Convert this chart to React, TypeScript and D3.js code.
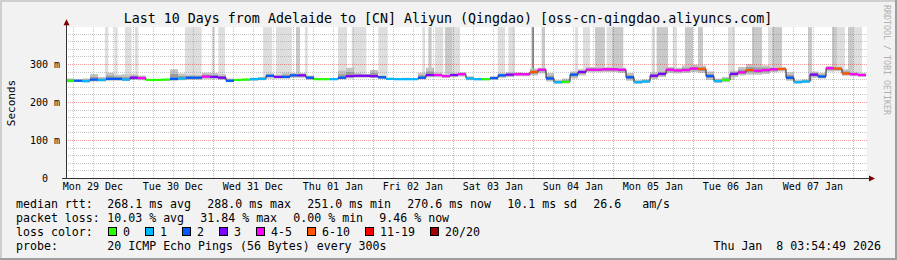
import React from 'react';
import * as d3 from 'd3';

const W = 897;
const H = 260;
const STEP_H = 2.4; // hours per consolidated point

const title = 'Last 10 Days from Adelaide to [CN] Aliyun (Qingdao) [oss-cn-qingdao.aliyuncs.com]';
const startTime = new Date(2025, 11, 29, 3, 54, 49);
const endTime = new Date(2026, 0, 8, 3, 54, 49);

// median rtt (ms), one value per 2.4 h
const median = [
  256, 256, 255, 259, 258, 261, 261, 259, 264, 263,
  258, 258, 259, 261, 262, 264, 264, 267, 266, 264,
  256, 258, 259, 260, 261, 269, 266, 266, 270, 270,
  264, 260, 260, 260, 264, 268, 269, 269, 268, 265,
  261, 260, 260, 260, 264, 271, 271, 268, 271, 273,
  262, 260, 260, 263, 270, 272, 273, 273, 279, 285,
  262, 252, 253, 272, 279, 285, 285, 286, 286, 285,
  265, 252, 254, 269, 274, 285, 283, 284, 288, 287,
  268, 255, 258, 274, 278, 284, 282, 284, 286, 287,
  264, 252, 254, 272, 267, 289, 288, 275, 273, 271,
];
// loss bucket index per point (0..7)
const lossIdx = [
  0, 2, 1, 2, 1, 2, 2, 1, 3, 4,
  0, 0, 0, 2, 1, 2, 2, 4, 3, 3,
  2, 0, 0, 1, 1, 2, 3, 2, 2, 3,
  2, 0, 0, 1, 2, 3, 3, 3, 3, 2,
  1, 1, 1, 1, 2, 3, 4, 4, 3, 4,
  1, 1, 0, 2, 2, 3, 4, 4, 5, 4,
  2, 1, 0, 2, 3, 4, 4, 4, 4, 4,
  2, 1, 1, 3, 3, 4, 4, 4, 4, 5,
  2, 1, 0, 3, 4, 5, 4, 4, 4, 5,
  2, 1, 1, 3, 2, 4, 5, 5, 4, 4,
];
// smoke upper / lower extent (ms)
const smokeHi = [
  262, 259, 262, 274, 266, 277, 272, 273, 273, 270,
  260, 259, 260, 286, 275, 272, 272, 277, 276, 273,
  262, 260, 261, 264, 266, 275, 272, 277, 276, 276,
  270, 262, 262, 262, 282, 290, 276, 274, 284, 270,
  263, 262, 264, 262, 277, 290, 277, 274, 276, 278,
  268, 262, 262, 268, 276, 278, 278, 277, 288, 290,
  276, 258, 262, 280, 286, 292, 292, 292, 291, 290,
  276, 258, 260, 278, 282, 292, 290, 296, 298, 296,
  280, 262, 266, 282, 292, 300, 300, 296, 292, 292,
  278, 258, 260, 280, 276, 295, 293, 286, 278, 276,
];
const smokeLo = [
  252, 253, 251, 254, 254, 256, 256, 255, 258, 257,
  256, 256, 256, 256, 257, 258, 258, 260, 260, 258,
  252, 255, 256, 256, 257, 262, 261, 261, 264, 264,
  258, 258, 258, 258, 259, 262, 264, 264, 263, 260,
  258, 258, 258, 258, 259, 265, 265, 263, 265, 267,
  257, 257, 257, 258, 264, 266, 268, 268, 270, 275,
  254, 248, 249, 262, 270, 278, 278, 279, 279, 276,
  256, 248, 250, 260, 266, 276, 275, 276, 279, 276,
  258, 250, 252, 266, 270, 272, 272, 274, 278, 280,
  256, 249, 250, 264, 262, 280, 281, 269, 268, 266,
];
// periods (hours from start) where outlier pings reach above the chart top; shade 0 light, 1 medium, 2 dark
const spikes: [number, number, number][] = [
  [11.7, 12.7, 0], [14.5, 15.5, 0], [17.7, 19.7, 0], [20.7, 21.7, 0], [35.7, 40.7, 0], [43.7, 44.7, 0], [45.7, 47.7, 0],
  [59.1, 61.8, 0], [63, 67.8, 0], [69, 70.2, 1], [71.7, 72.5, 0], [81.6, 84.3, 0], [85.7, 90.1, 0], [93.7, 96.5, 0],
  [106.9, 107.7, 0], [108.7, 109.7, 1], [110.7, 113.2, 0], [113.7, 116, 1], [116, 118.2, 0],
  [129.5, 131.7, 0], [132.7, 134.7, 0], [139.7, 140.4, 2], [142.7, 143.7, 1], [152.7, 153.6, 0], [155.1, 157.2, 0],
  [158.7, 161.7, 1], [162.2, 163.7, 0], [163.7, 167.2, 1], [175.7, 176.7, 0], [177.2, 179.7, 1],
  [179.7, 180.6, 1], [182.1, 183.3, 0], [185.7, 188.1, 1], [189.6, 191.1, 1], [198.6, 200.7, 0], [205.8, 208.8, 1],
  [210.6, 211.8, 0], [211.8, 214.8, 1], [222.6, 223.8, 1], [229.8, 231.3, 1], [231.3, 233.7, 0], [234.6, 236.1, 1], [236.1, 238.8, 0],
];

const lossLabels = ['0', '1', '2', '3', '4-5', '6-10', '11-19', '20/20'];
const lossColors = ['#26ff00', '#00b8ff', '#0059ff', '#7e00ff', '#ff00ff', '#ff5500', '#ff0000', '#a10000'];
const yTicks = [0, 100, 200, 300];
const yTickLabels = ['0\u00a0\u00a0', '100 m', '200 m', '300 m'];
const statsRtt = ['268.1 ms avg', '288.0 ms max', '251.0 ms min', '270.6 ms now', '10.1 ms sd', '26.6   am/s'];
const statsLoss = ['10.03 % avg', '31.84 % max', '0.00 % min', '9.46 % now'];
const probeText = '20 ICMP Echo Pings (56 Bytes) every 300s';
const stampText = 'Thu Jan  8 03:54:49 2026';
const spikeShades = ['#dedede', '#c9c9c9', '#939393'];

const MONO = '"DejaVu Sans Mono", monospace';

export default function App() {
  const X0 = 66, X1 = 866, Y0 = 178;
  const x = d3.scaleTime().domain([startTime, endTime]).range([X0, X1]);
  const y = d3.scaleLinear().domain([0, 397]).range([Y0, Y0 - 397 * 0.38]);
  const YT = y(397);
  const tAt = (h: number) => new Date(startTime.getTime() + h * 3600 * 1000);

  type P = { t: Date; m: number; hi: number; lo: number };
  const pts: P[] = median.map((m, i) => ({ t: tAt(i * STEP_H), m, hi: smokeHi[i], lo: smokeLo[i] }));
  const ptsExt: P[] = [...pts, { ...pts[pts.length - 1], t: endTime }];

  const outer = d3.area<P>().curve(d3.curveStepAfter).x(d => x(d.t)).y0(d => y(d.lo)).y1(d => y(d.hi));
  const inner = d3.area<P>().curve(d3.curveStepAfter).x(d => x(d.t))
    .y0(d => y((d.lo + d.m) / 2)).y1(d => y((d.hi + d.m) / 2));
  const medLine = d3.line<P>().curve(d3.curveStepAfter).x(d => x(d.t)).y(d => y(d.m));

  const minorV = d3.timeHour.every(6)!.range(startTime, endTime).filter(d => d.getHours() !== 0);
  const majorV = d3.timeDay.range(startTime, endTime);
  const dayLabels = d3.timeDay.range(d3.timeDay.floor(startTime), endTime)
    .map(d => d3.timeHour.offset(d, 12)).filter(d => d >= startTime && d <= endTime);
  const fmt = d3.timeFormat('%a %d %b');
  const minorH = d3.range(20, 397, 20).filter(v => v % 100 !== 0);
  const majorH = [100, 200, 300];

  const legendCol = 107.3;
  const rttX: number[] = [];
  statsRtt.reduce((acc, s) => { rttX.push(acc); return acc + s.length * 7 + 16; }, legendCol);
  const lossX: number[] = [];
  statsLoss.reduce((acc, s) => { lossX.push(acc); return acc + s.length * 7 + 16; }, legendCol);
  const boxX: number[] = [];
  lossLabels.reduce((acc, s) => { boxX.push(acc); return acc + 30 + s.length * 7; }, 108.3);

  const gridMinor = 'rgba(143,143,143,0.5)';
  const gridMajor = 'rgba(229,0,0,0.38)';

  return (
    <svg width={W} height={H} style={{ position: 'fixed', left: 0, top: 0 }} fontFamily={MONO}>
      <rect x={0} y={0} width={W} height={H} fill="#f2f2f2" />
      <rect x={0} y={0} width={W} height={2} fill="#cfcfcf" />
      <rect x={0} y={0} width={2} height={H} fill="#cfcfcf" />
      <rect x={0} y={H - 2} width={W} height={2} fill="#9e9e9e" />
      <rect x={W - 2} y={0} width={2} height={H} fill="#9e9e9e" />

      <text x={448} y={23.3} textAnchor="middle" fontSize={13.3} fill="#000">{title}</text>

      <rect x={X0} y={YT} width={X1 - X0 + 1} height={Y0 - YT} fill="#ffffff" />

      <g>
        {spikes.map(([h0, h1, s], i) => {
          const idx = Math.min(median.length - 1, Math.floor(h0 / STEP_H));
          const xa = x(tAt(h0)), xb = x(tAt(h1));
          return <rect key={i} x={xa} y={YT} width={Math.max(1, xb - xa)} height={y(median[idx]) - YT} fill={spikeShades[s]} />;
        })}
        <path d={outer(ptsExt) || ''} fill="#c4c4c4" />
        <path d={inner(ptsExt) || ''} fill="#9c9c9c" />
      </g>

      <g shapeRendering="crispEdges">
        {minorH.map(v => (
          <line key={'mh' + v} x1={X0} x2={X1 + 1} y1={Math.round(y(v)) + 0.5} y2={Math.round(y(v)) + 0.5}
            stroke={gridMinor} strokeDasharray="1,1" />
        ))}
        {minorV.map((d, i) => (
          <line key={'mv' + i} x1={Math.round(x(d)) + 0.5} x2={Math.round(x(d)) + 0.5} y1={YT} y2={Y0}
            stroke={gridMinor} strokeDasharray="1,1" />
        ))}
        {majorH.map(v => (
          <line key={'Mh' + v} x1={X0} x2={X1 + 1} y1={Math.round(y(v)) + 0.5} y2={Math.round(y(v)) + 0.5}
            stroke={gridMajor} strokeDasharray="1,1" />
        ))}
        {majorV.map((d, i) => (
          <line key={'Mv' + i} x1={Math.round(x(d)) + 0.5} x2={Math.round(x(d)) + 0.5} y1={YT} y2={Y0}
            stroke={gridMajor} strokeDasharray="1,1" />
        ))}
      </g>

      <path d={medLine(ptsExt) || ''} fill="none" stroke="#202020" strokeWidth={1} />
      <g>
        {pts.map((p, i) => (
          <line key={i} x1={x(p.t)} x2={x(ptsExt[i + 1].t)} y1={y(p.m)} y2={y(p.m)}
            stroke={lossColors[lossIdx[i]]} strokeWidth={2.2} />
        ))}
      </g>

      {/* axes */}
      <g shapeRendering="crispEdges">
        <line x1={X0 + 0.5} x2={X0 + 0.5} y1={Y0} y2={YT - 3} stroke="#333" />
        <line x1={X0 - 4} x2={X1 + 3} y1={Y0 + 0.5} y2={Y0 + 0.5} stroke="#333" />
      </g>
      <path d={`M${X0 - 2.5},${YT - 2} L${X0 + 3.5},${YT - 2} L${X0 + 0.5},${YT - 8} Z`} fill="#7f0000" />
      <path d={`M${X1 + 3},${Y0 - 2.5} L${X1 + 3},${Y0 + 3.5} L${X1 + 9},${Y0 + 0.5} Z`} fill="#7f0000" />

      {yTicks.map((v, i) => (
        <text key={'yt' + v} x={60} y={y(v) + 3.6} textAnchor="end" fontSize={10} fill="#000">{yTickLabels[i]}</text>
      ))}
      {dayLabels.map((d, i) => (
        <text key={'xl' + i} x={x(d)} y={190.3} textAnchor="middle" fontSize={10} fill="#000">{fmt(d)}</text>
      ))}

      <text transform="translate(15,103) rotate(-90)" textAnchor="middle" fontSize={11} fill="#000">Seconds</text>
      <text transform="translate(884.3,60) rotate(90)" textAnchor="middle" fontSize={8.3} fill="#b0b0b0">RRDTOOL / TOBI OETIKER</text>

      {/* legend */}
      <g fontSize={11.6} fill="#000" style={{ whiteSpace: 'pre' }}>
        <text x={16} y={208}>median rtt:</text>
        {statsRtt.map((s, i) => <text key={'r' + i} x={rttX[i]} y={208} xmlSpace="preserve">{s}</text>)}
        <text x={16} y={222}>packet loss:</text>
        {statsLoss.map((s, i) => <text key={'l' + i} x={lossX[i]} y={222} xmlSpace="preserve">{s}</text>)}
        <text x={16} y={235.7}>loss color:</text>
        {lossLabels.map((s, i) => (
          <g key={'b' + i}>
            <rect x={Math.round(boxX[i]) + 0.5} y={227.5} width={8} height={8} fill={lossColors[i]} stroke="#000" strokeWidth={1} />
            <text x={boxX[i] + 14.7} y={235.7}>{s}</text>
          </g>
        ))}
        <text x={16} y={249.5}>probe:</text>
        <text x={legendCol} y={249.5}>{probeText}</text>
        <text x={881} y={249.5} textAnchor="end" xmlSpace="preserve">{stampText}</text>
      </g>
    </svg>
  );
}
